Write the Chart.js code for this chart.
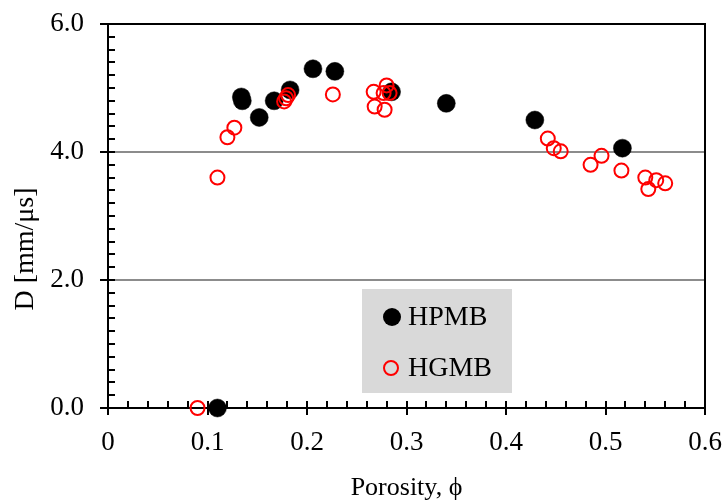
<!DOCTYPE html>
<html>
<head>
<meta charset="utf-8">
<script src="https://cdn.jsdelivr.net/npm/chart.js@4/dist/chart.umd.min.js"></script>
<style>
  html, body { margin: 0; padding: 0; background: #fff; }
  #wrap { width: 724px; height: 504px; }
</style>
</head>
<body>
<div id="wrap"><canvas id="scatter-chart"></canvas></div>
<script>
// Data
var porosityHPMB = [0.110, 0.134, 0.135, 0.152, 0.167, 0.183, 0.206, 0.228, 0.285, 0.340, 0.429, 0.517];
var velocityHPMB = [0.00, 4.86, 4.80, 4.54, 4.80, 4.97, 5.30, 5.26, 4.94, 4.76, 4.50, 4.06];

var porosityHGMB = [0.090, 0.110, 0.120, 0.127, 0.177, 0.179, 0.181, 0.226, 0.267, 0.268, 0.277, 0.278, 0.280, 0.283,
                    0.442, 0.448, 0.455, 0.485, 0.496, 0.516, 0.540, 0.543, 0.551, 0.560];
var velocityHGMB = [0.00, 3.60, 4.23, 4.38, 4.79, 4.84, 4.89, 4.90, 4.94, 4.71, 4.92, 4.66, 5.04, 4.92,
                    4.21, 4.06, 4.01, 3.80, 3.94, 3.71, 3.60, 3.42, 3.56, 3.51];

var xTicks = [0, 0.1, 0.2, 0.3, 0.4, 0.5, 0.6];
var yTicks = [0, 2, 4, 6];
var xMinorStep = 0.02;
var yMinorStep = 0.2;

var FONT = "'Liberation Serif', 'Times New Roman', serif";

function toPoints(xs, ys) {
    return xs.map(function (x, i) { return { x: x, y: ys[i] }; });
}

// inward minor ticks, crossing major ticks, top/right frame
var frameTicks = {
    id: 'frameTicks',
    beforeDatasetsDraw: function (chart) {
        var ctx = chart.ctx, a = chart.chartArea;
        var xs = chart.scales.x, ys = chart.scales.y;
        ctx.save();
        ctx.strokeStyle = '#000';
        ctx.lineWidth = 2;
        ctx.beginPath();
        // top and right frame
        ctx.moveTo(a.left, a.top); ctx.lineTo(a.right, a.top); ctx.lineTo(a.right, a.bottom);
        var i, v, p;
        for (i = 0; i <= Math.round(0.6 / xMinorStep); i++) {
            v = i * xMinorStep;
            p = Math.round(xs.getPixelForValue(v));
            var major = Math.abs(v * 10 - Math.round(v * 10)) < 1e-6;
            ctx.moveTo(p, a.bottom - 7);
            ctx.lineTo(p, a.bottom + (major ? 7 : 0));
        }
        for (i = 0; i <= Math.round(6 / yMinorStep); i++) {
            v = i * yMinorStep;
            p = Math.round(ys.getPixelForValue(v));
            var majorY = Math.abs(v / 2 - Math.round(v / 2)) < 1e-6;
            ctx.moveTo(a.left - (majorY ? 8 : 0), p);
            ctx.lineTo(a.left + 7, p);
        }
        ctx.stroke();

        // y axis title, sits a bit below the middle like the original
        ctx.save();
        ctx.translate(26, 249);
        ctx.rotate(-Math.PI / 2);
        ctx.font = '28px ' + FONT;
        ctx.fillStyle = '#000';
        ctx.textAlign = 'center';
        ctx.textBaseline = 'middle';
        ctx.fillText('D [mm/\u03BCs]', 0, 0);
        ctx.restore();
        ctx.restore();
    }
};

// boxed legend inside the plot
var boxLegend = {
    id: 'boxLegend',
    afterDatasetsDraw: function (chart) {
        var ctx = chart.ctx, a = chart.chartArea;
        var bx = a.left + 254, by = a.top + 265;
        ctx.save();
        ctx.fillStyle = '#d9d9d9';
        ctx.fillRect(bx, by, 150, 104);
        ctx.font = '28px ' + FONT;
        ctx.textBaseline = 'middle';
        ctx.fillStyle = '#000';
        // HPMB
        ctx.beginPath();
        ctx.arc(bx + 30, by + 28, 9, 0, Math.PI * 2);
        ctx.fill();
        ctx.fillText(chart.data.datasets[0].label, bx + 46, by + 29);
        // HGMB
        ctx.beginPath();
        ctx.arc(bx + 29, by + 79, 7, 0, Math.PI * 2);
        ctx.strokeStyle = '#ff0000';
        ctx.lineWidth = 2;
        ctx.stroke();
        ctx.fillText(chart.data.datasets[1].label, bx + 46, by + 80);
        ctx.restore();
    }
};

var chartData = {
    datasets: [{
        label: 'HPMB',
        data: toPoints(porosityHPMB, velocityHPMB),
        pointRadius: 9,
        pointHoverRadius: 9,
        pointBackgroundColor: '#000',
        pointBorderColor: '#000',
        pointBorderWidth: 0.5,
        clip: false,
        order: 1
    }, {
        label: 'HGMB',
        data: toPoints(porosityHGMB, velocityHGMB),
        pointRadius: 7,
        pointHoverRadius: 7,
        pointBackgroundColor: 'rgba(0,0,0,0)',
        pointBorderColor: '#ff0000',
        pointBorderWidth: 2,
        clip: false,
        order: 0
    }]
};

var chartOptions = {
    responsive: true,
    maintainAspectRatio: false,
    animation: false,
    layout: { padding: { top: 24, right: 19, left: 0, bottom: 0 } },
    plugins: {
        legend: { display: false },
        tooltip: { enabled: false }
    },
    scales: {
        x: {
            type: 'linear',
            min: 0,
            max: 0.6,
            afterBuildTicks: function (s) { s.ticks = xTicks.map(function (v) { return { value: v }; }); },
            afterFit: function (s) { s.height = 96; s.paddingLeft = 0; s.paddingRight = 0; },
            grid: { display: false, drawTicks: false },
            border: { display: true, color: '#000', width: 2 },
            ticks: {
                padding: 19,
                color: '#000',
                font: { family: FONT, size: 27 },
                maxRotation: 0,
                callback: function (v) { return v === 0 ? '0' : v.toFixed(1); }
            },
            title: {
                display: true,
                text: 'Porosity, \u03D5',
                color: '#000',
                font: { family: FONT, size: 26 },
                padding: { top: 0, bottom: 0 }
            }
        },
        y: {
            min: 0,
            max: 6,
            afterBuildTicks: function (s) { s.ticks = yTicks.map(function (v) { return { value: v }; }); },
            afterFit: function (s) { s.width = 108; s.paddingTop = 0; s.paddingBottom = 0; },
            grid: {
                drawTicks: false,
                lineWidth: 2,
                color: function (c) {
                    var v = c.tick ? c.tick.value : null;
                    return (v === 2 || v === 4) ? '#8c8c8c' : 'rgba(0,0,0,0)';
                }
            },
            border: { display: true, color: '#000', width: 2 },
            ticks: {
                padding: 24,
                color: '#000',
                font: { family: FONT, size: 27 },
                callback: function (v) { return v.toFixed(1); }
            },
            title: { display: false }
        }
    }
};

var config = {
    type: 'scatter',
    data: chartData,
    options: chartOptions,
    plugins: [frameTicks, boxLegend]
};

var scatterChart = new Chart(document.getElementById('scatter-chart'), config);
</script>
</body>
</html>
